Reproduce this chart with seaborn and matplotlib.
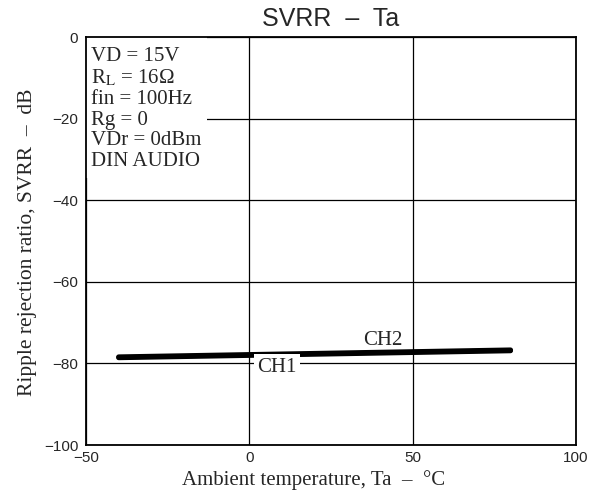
import pandas as pd
import matplotlib
matplotlib.use('Agg')
import matplotlib.pyplot as plt
from matplotlib.patches import Rectangle
import seaborn as sns

# --- data ---
ta = [-40, 80]
svrr_ch1 = [-78.6, -76.9]
svrr_ch2 = [-78.4, -76.7]
x_ticks = [-50, 0, 50, 100]
y_ticks = [-100, -80, -60, -40, -20, 0]
conditions = ["VD = 15V", "R$_\\mathrm{L}$ = 16Ω", "fin = 100Hz", "Rg = 0", "VDr = 0dBm", "DIN AUDIO"]

df = pd.DataFrame({
    "Ta": ta + ta,
    "SVRR": svrr_ch1 + svrr_ch2,
    "ch": ["CH1"] * 2 + ["CH2"] * 2,
})

sns.set_style("white")
plt.rcParams['font.family'] = ['Liberation Sans', 'DejaVu Sans']
plt.rcParams['mathtext.fontset'] = 'stix'

fig = plt.figure(figsize=(6.03, 4.98), dpi=100)
ax = fig.add_axes([0.1426, 0.1064, 0.955 - 0.1426, 0.9257 - 0.1064])

sns.lineplot(data=df, x="Ta", y="SVRR", units="ch", estimator=None,
             color="black", linewidth=3.6, ax=ax, legend=False, zorder=3)

ax.set_xlim(-50, 100)
ax.set_ylim(-100, 0)
ax.set_xticks(x_ticks)
ax.set_yticks(y_ticks)
ax.set_xticklabels([str(v).replace('-', '\u2212') for v in x_ticks], fontsize=11)
ax.set_yticklabels([str(v).replace('-', '\u2212') for v in y_ticks], fontsize=11)
ax.tick_params(axis='y', length=0, pad=5.5)
ax.tick_params(axis='x', length=0, pad=4)
ax.grid(True, color="black", linewidth=0.9)
for s in ax.spines.values():
    s.set_color("black")
    s.set_linewidth(1.3)

serif = ['Liberation Serif', 'DejaVu Serif']
ax.set_xlabel("Ambient temperature, Ta  \u2013  °C", family=serif, fontsize=15)
ax.xaxis.set_label_coords(0.465, -0.062)
ax.set_ylabel("Ripple rejection ratio, SVRR  \u2013  dB", family=serif, fontsize=15.5)
ax.yaxis.set_label_coords(-0.1, 0.496)
ax.set_title("SVRR  \u2013  Ta", fontsize=18, pad=8)

# white panel behind the test conditions (hides the grid there)
ax.add_patch(Rectangle((0, 0.655), 0.247, 0.345, transform=ax.transAxes,
                       facecolor="white", edgecolor="none", zorder=1))
ax.text(-48.6, -2.4, "\n".join(conditions), family=serif, fontsize=15, va="top", ha="left",
        linespacing=1.12, zorder=4)

ax.text(8.5, -81, "CH1", family=serif, fontsize=15, ha="center", va="center", zorder=4,
        bbox=dict(facecolor="white", edgecolor="none", pad=2.5))
ax.text(41, -74.3, "CH2", family=serif, fontsize=15, ha="center", va="center", zorder=4)

fig.savefig("out.png", dpi=100)
